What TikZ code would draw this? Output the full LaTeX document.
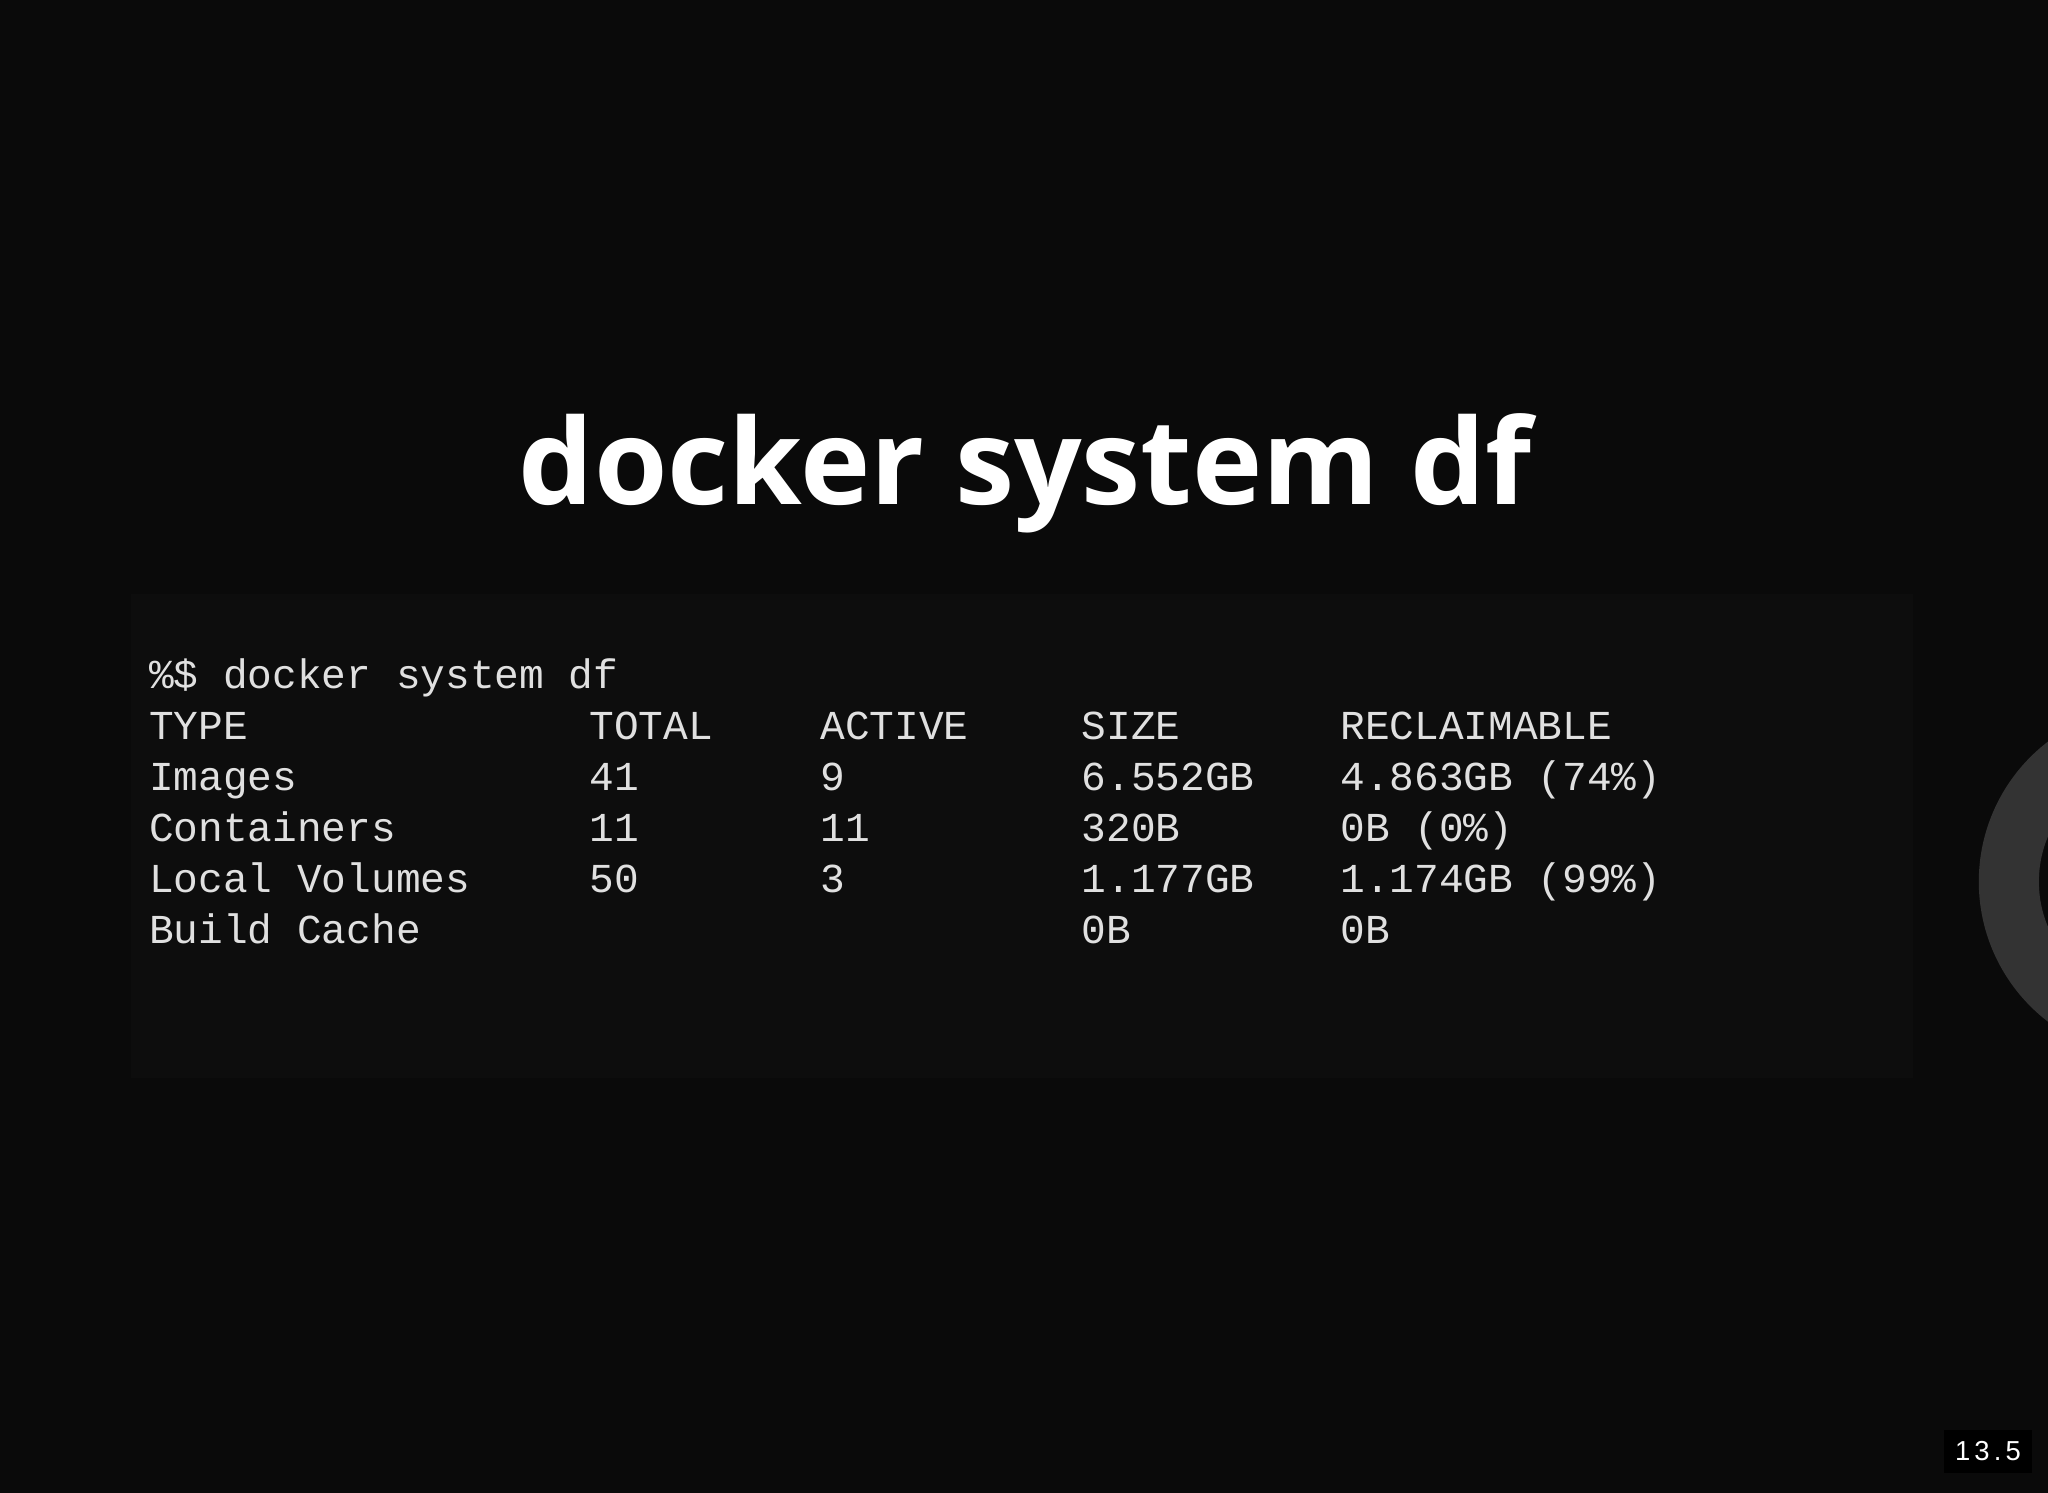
\documentclass[tikz,border=0pt]{standalone}
\usepackage{fontspec}
\setmainfont{Open Sans}
\newfontfamily\monof{Liberation Mono}
\newfontfamily\numf[LetterSpace=15]{Liberation Sans}
\definecolor{bg}{HTML}{0A0A0A}
\definecolor{codebg}{HTML}{0D0D0D}
\definecolor{ring}{HTML}{333333}
\definecolor{codetxt}{HTML}{E0E0E0}
\begin{document}
\begin{tikzpicture}[x=1pt,y=-1pt,
  code/.style={anchor=base west,inner sep=0pt,text=codetxt,font=\monof\fontsize{31.5}{31.5}\selectfont}]
\fill[bg] (0,0) rectangle (1568,1143);
\useasboundingbox (0,0) rectangle (1568,1143);
\fill[codebg] (100,455) rectangle (1465,825);
\begin{scope}
\clip (0,0) rectangle (1568,1143);
\draw[ring,line width=46pt] (1650,675) circle (112);
\end{scope}
\node[text=white,font=\bfseries\fontsize{91}{91}\selectfont,anchor=base] (title) at (785,386) {docker system df};
\node[code] (l0) at (114,527) {\%\$ docker system df};
\foreach \y/\a/\b/\c/\d/\e [count=\i] in {566/TYPE/TOTAL/ACTIVE/SIZE/RECLAIMABLE,
  605/Images/41/9/6.552GB/4.863GB (74\%),
  644/Containers/11/11/320B/0B (0\%),
  683/Local Volumes/50/3/1.177GB/1.174GB (99\%),
  722/Build Cache///0B/0B}{
  \node[code] (a\i) at (114,\y) {\a};
  \node[code] (b\i) at (451,\y) {\b};
  \node[code] (c\i) at (628,\y) {\c};
  \node[code] (d\i) at (828,\y) {\d};
  \node[code] (e\i) at (1026,\y) {\e};
}
\fill[black] (1488,1095) rectangle (1556,1128);
\node[text=white,font=\numf\fontsize{21}{21}\selectfont] (pg) at (1522,1111) {13.5};
\end{tikzpicture}
\end{document}
